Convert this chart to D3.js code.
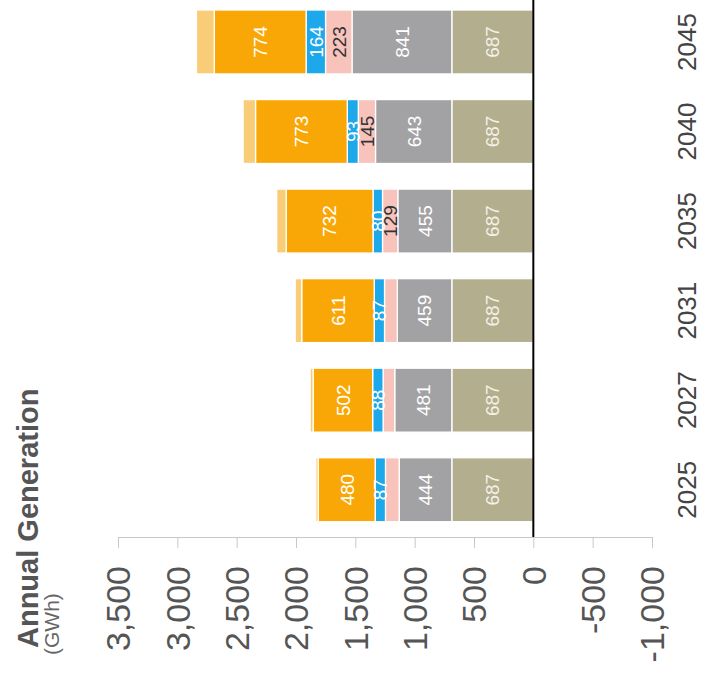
<!DOCTYPE html>
<html>
<head>
<meta charset="utf-8">
<script src="https://cdn.jsdelivr.net/npm/d3@7"></script>
<style>
  html, body { margin: 0; padding: 0; background: #fff; }
  svg { display: block; font-family: "Liberation Sans", Arial, sans-serif; }
</style>
</head>
<body>
<svg id="chart" width="701" height="678"></svg>
<script>
// ---- data ----
const years = ["2025", "2027", "2031", "2035", "2040", "2045"];
const olive = [687, 687, 687, 687, 687, 687];
const grey = [444, 481, 459, 455, 643, 841];
const pink = [115, 98, 108, 129, 145, 223];
const blue = [87, 88, 87, 80, 93, 164];
const orange = [480, 502, 611, 732, 773, 774];
const lightOrange = [20, 25, 55, 80, 105, 150];
const valueTicks = [3500, 3000, 2500, 2000, 1500, 1000, 500, 0, -500, -1000];
const titleText = "Annual Generation";
const unitText = "(GWh)";

const seriesKeys = ["olive", "grey", "pink", "blue", "orange", "lightOrange"];
const seriesValues = { olive, grey, pink, blue, orange, lightOrange };
const colors = {
  olive: "#b3ae8e", grey: "#a2a2a4", pink: "#f7c3bb",
  blue: "#1ea8ec", orange: "#f9a707", lightOrange: "#f9cd78"
};
const labelColors = {
  olive: "#f4f1e6", grey: "#ffffff", pink: "#333333",
  blue: "#ffffff", orange: "#ffffff", lightOrange: null
};
const labelMin = { olive: 0, grey: 0, pink: 120, blue: 0, orange: 0, lightOrange: Infinity };

const table = years.map((yr, i) => {
  const row = { year: yr };
  seriesKeys.forEach(k => row[k] = seriesValues[k][i]);
  return row;
});

const svg = d3.select("#chart");

const x = d3.scaleLinear().domain([-1000, 3500]).range([652, 118]);
const y = d3.scaleBand().domain(years).range([534.5, -2.8])
  .paddingInner(0.286).paddingOuter(0.143);

const stacked = d3.stack().keys(seriesKeys)(table);

// bars
const layers = svg.append("g").selectAll("g").data(stacked).join("g")
  .attr("fill", d => colors[d.key]);
layers.selectAll("rect").data(d => d.map(p => Object.assign(p, { key: d.key })))
  .join("rect")
  .attr("x", d => x(d[1]))
  .attr("width", d => x(d[0]) - x(d[1]))
  .attr("y", d => y(d.data.year))
  .attr("height", y.bandwidth())
  .attr("stroke", "#fff")
  .attr("stroke-width", 1.3);

// segment labels
const labelData = [];
stacked.forEach(layer => {
  layer.forEach(p => {
    const v = p.data[layer.key];
    if (labelColors[layer.key] && v >= labelMin[layer.key]) {
      labelData.push({ key: layer.key, v, cx: x((p[0] + p[1]) / 2), cy: y(p.data.year) + y.bandwidth() / 2 });
    }
  });
});
svg.append("g").selectAll("text").data(labelData).join("text")
  .attr("transform", d => `translate(${d.cx},${d.cy}) rotate(-90)`)
  .attr("text-anchor", "middle")
  .attr("dy", "0.36em")
  .attr("font-size", 19)
  .attr("fill", d => labelColors[d.key])
  .text(d => d.v);

// zero line
svg.append("line")
  .attr("x1", x(0)).attr("x2", x(0))
  .attr("y1", 0).attr("y2", 537)
  .attr("stroke", "#000").attr("stroke-width", 2);

// value axis
const fmt = d3.formatLocale({ decimal: ".", thousands: ",", grouping: [3], currency: ["$", ""], minus: "-" }).format(",");
const axis = svg.append("g").attr("transform", "translate(0,537)")
  .call(d3.axisBottom(x).tickValues(valueTicks).tickSize(11).tickSizeOuter(0).tickFormat(""));
axis.select(".domain").attr("stroke", "#c8c8c8");
axis.selectAll(".tick line").attr("stroke", "#c8c8c8");

svg.append("g").selectAll("text").data(valueTicks).join("text")
  .attr("transform", d => `translate(${x(d)},566) rotate(-90)`)
  .attr("text-anchor", "end")
  .attr("dy", "0.36em")
  .attr("font-size", 34)
  .attr("fill", "#555")
  .text(d => fmt(d));

// category labels
svg.append("g").selectAll("text").data(years).join("text")
  .attr("transform", d => `translate(687,${y(d) + y.bandwidth() / 2}) rotate(-90)`)
  .attr("text-anchor", "middle")
  .attr("dy", "0.36em")
  .attr("font-size", 26)
  .attr("fill", "#444")
  .text(d => d);

// title
svg.append("text")
  .attr("transform", "translate(38,648) rotate(-90)")
  .attr("font-size", 29)
  .attr("font-weight", "bold")
  .attr("fill", "#555")
  .text(titleText);
svg.append("text")
  .attr("transform", "translate(59,655) rotate(-90)")
  .attr("font-size", 21)
  .attr("fill", "#666")
  .text(unitText);
</script>
</body>
</html>
